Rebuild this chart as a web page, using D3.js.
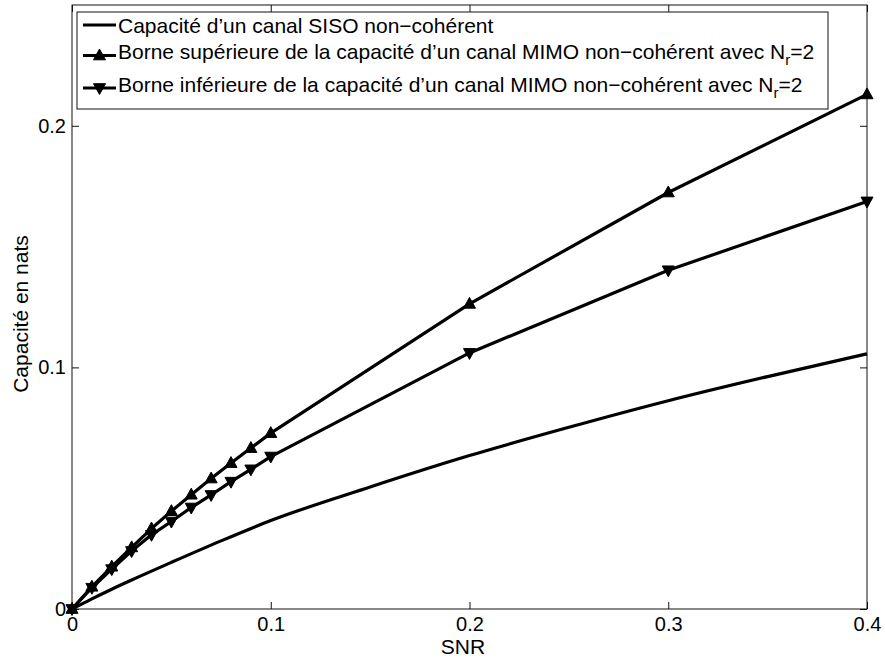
<!DOCTYPE html>
<html>
<head>
<meta charset="utf-8">
<script src="https://cdn.jsdelivr.net/npm/d3@7"></script>
<style>
  html, body { margin: 0; padding: 0; background: #fff; }
  svg { display: block; font-family: "Liberation Sans", Arial, Helvetica, sans-serif; }
</style>
</head>
<body>
<svg id="chart" width="885" height="658"></svg>
<script>
// SNR sample points and capacities (nats)
const snrBounds = [0, 0.01, 0.02, 0.03, 0.04, 0.05, 0.06, 0.07, 0.08, 0.09, 0.1, 0.2, 0.3, 0.4];
const upperBound = [0, 0.0092, 0.0175, 0.0255, 0.0333, 0.0405, 0.0473, 0.0540, 0.0604, 0.0666, 0.0728, 0.1263, 0.1724, 0.2130];
const lowerBound = [0, 0.0088, 0.0165, 0.0240, 0.0307, 0.0362, 0.0420, 0.0472, 0.0527, 0.0578, 0.0631, 0.1060, 0.1402, 0.1687];

const snrSiso = [0, 0.01, 0.02, 0.03, 0.05, 0.075, 0.1, 0.15, 0.2, 0.25, 0.3, 0.35, 0.4];
const capSiso = [0, 0.0042, 0.0082, 0.0120, 0.0193, 0.0282, 0.0366, 0.0505, 0.0635, 0.0752, 0.0862, 0.0962, 0.1056];

const xTicks = [0, 0.1, 0.2, 0.3, 0.4];
const yTicks = [0, 0.1, 0.2];

const legendLabels = [
  "Capacité d’un canal SISO non−cohérent",
  "Borne supérieure de la capacité d’un canal MIMO non−cohérent avec N",
  "Borne inférieure de la capacité d’un canal MIMO non−cohérent avec N"
];

const svg = d3.select("#chart");
const pLeft = 72, pRight = 867, pTop = 5, pBottom = 609;
const fs = 21;

const x = d3.scaleLinear().domain([0, 0.4]).range([pLeft, pRight]);
const y = d3.scaleLinear().domain([0, 0.25]).range([pBottom, pTop]);

const ink = "#111";
const fmt = d => d === 0 ? "0" : d3.format(".1f")(d);

// axes: bottom/left labelled, top/right tick-only (inward ticks)
const tickLen = 7;
svg.append("g").attr("transform", `translate(0,${pBottom})`)
  .call(d3.axisBottom(x).tickValues(xTicks).tickFormat(fmt).tickSizeInner(-tickLen).tickSizeOuter(0).tickPadding(8))
  .call(g => g.select(".domain").remove());
svg.append("g").attr("transform", `translate(${pLeft},0)`)
  .call(d3.axisLeft(y).tickValues(yTicks).tickFormat(fmt).tickSizeInner(-tickLen).tickSizeOuter(0).tickPadding(6))
  .call(g => g.select(".domain").remove());
svg.append("g").attr("transform", `translate(0,${pTop})`)
  .call(d3.axisTop(x).tickValues(xTicks).tickFormat("").tickSizeInner(-tickLen).tickSizeOuter(0))
  .call(g => g.select(".domain").remove());
svg.append("g").attr("transform", `translate(${pRight},0)`)
  .call(d3.axisRight(y).tickValues(yTicks).tickFormat("").tickSizeInner(-tickLen).tickSizeOuter(0))
  .call(g => g.select(".domain").remove());

svg.selectAll(".tick line").attr("stroke", ink).attr("stroke-width", 1);
svg.selectAll(".tick text").attr("fill", "#000").style("font-size", "20px")
  .style("font-family", "'Liberation Sans', Arial, sans-serif");

// axes frame
svg.append("rect")
  .attr("x", pLeft).attr("y", pTop)
  .attr("width", pRight - pLeft).attr("height", pBottom - pTop)
  .attr("fill", "none").attr("stroke", ink).attr("stroke-width", 1);

// axis titles
svg.append("text").attr("x", 463).attr("y", 654)
  .attr("text-anchor", "middle").style("font-size", fs + "px").text("SNR");
svg.append("text")
  .attr("transform", "translate(28,314) rotate(-90)")
  .attr("text-anchor", "middle").style("font-size", fs + "px").text("Capacité en nats");

// curves
const lw = 3.2;
const smoothLine = d3.line().x(d => x(d[0])).y(d => y(d[1])).curve(d3.curveMonotoneX);
const straightLine = d3.line().x(d => x(d[0])).y(d => y(d[1]));

const sisoPts = snrSiso.map((s, i) => [s, capSiso[i]]);
const upPts = snrBounds.map((s, i) => [s, upperBound[i]]);
const loPts = snrBounds.map((s, i) => [s, lowerBound[i]]);

const plot = svg.append("g");
plot.append("path").datum(sisoPts).attr("d", smoothLine)
  .attr("fill", "none").attr("stroke", "#000").attr("stroke-width", lw).attr("stroke-linejoin", "round");
plot.append("path").datum(loPts).attr("d", straightLine)
  .attr("fill", "none").attr("stroke", "#000").attr("stroke-width", lw).attr("stroke-linejoin", "round");
plot.append("path").datum(upPts).attr("d", straightLine)
  .attr("fill", "none").attr("stroke", "#000").attr("stroke-width", lw).attr("stroke-linejoin", "round");

// triangle markers
const tri = (cx, cy, up, s) => {
  const h = s * 0.9;
  return up
    ? `M${cx},${cy - h * 0.6}L${cx + s / 2},${cy + h * 0.4}L${cx - s / 2},${cy + h * 0.4}Z`
    : `M${cx},${cy + h * 0.6}L${cx + s / 2},${cy - h * 0.4}L${cx - s / 2},${cy - h * 0.4}Z`;
};
const mSize = 12;
plot.selectAll(".mlo").data(loPts).join("path").attr("class", "mlo")
  .attr("d", d => tri(x(d[0]), y(d[1]), false, mSize))
  .attr("fill", "#000").attr("stroke", "#000").attr("stroke-width", 1);
plot.selectAll(".mup").data(upPts).join("path").attr("class", "mup")
  .attr("d", d => tri(x(d[0]), y(d[1]), true, mSize))
  .attr("fill", "#000").attr("stroke", "#000").attr("stroke-width", 1);

// legend
const lg = svg.append("g");
lg.append("rect").attr("x", 77).attr("y", 12).attr("width", 751).attr("height", 97)
  .attr("fill", "#fff").attr("stroke", ink).attr("stroke-width", 1);

const rows = [
  { lineY: 25, base: 33, marker: null, sub: false },
  { lineY: 55.5, base: 59, marker: "up", sub: true },
  { lineY: 88, base: 92, marker: "down", sub: true }
];
rows.forEach((r, i) => {
  lg.append("line").attr("x1", 83).attr("x2", 116).attr("y1", r.lineY).attr("y2", r.lineY)
    .attr("stroke", "#000").attr("stroke-width", lw);
  if (r.marker) {
    lg.append("path").attr("d", tri(99.5, r.lineY, r.marker === "up", mSize))
      .attr("fill", "#000").attr("stroke", "#000").attr("stroke-width", 1);
  }
  const t = lg.append("text").attr("x", 118).attr("y", r.base).style("font-size", fs + "px")
    .text(legendLabels[i]);
  if (r.sub) {
    t.append("tspan").attr("dy", 6).style("font-size", "15px").text("r");
    t.append("tspan").attr("dy", -6).text("=2");
  }
});
</script>
</body>
</html>
